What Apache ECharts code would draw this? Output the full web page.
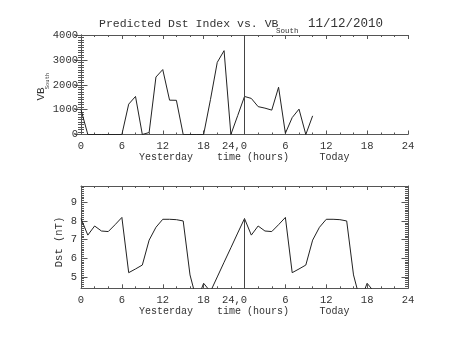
<!DOCTYPE html>
<html><head><meta charset="utf-8">
<script src="https://cdn.jsdelivr.net/npm/echarts@6/dist/echarts.min.js"></script>
<style>html,body{margin:0;padding:0;background:#fff}#c{width:453px;height:340px}</style>
</head><body><div id="c"></div>
<script>
// ---- data ----
const vbHours = [0,1,2,3,4,5,6,7,8,9,10,11,12,13,14,15,16,17,18,19,20,21,22,23,24,25,26,27,28,29,30,31,32,33,34];
const vbSouth = [1000,0,0,0,0,0,0,1220,1530,0,80,2310,2610,1380,1375,0,0,0,0,1400,2900,3370,0,760,1530,1450,1120,1060,980,1900,50,680,1020,0,750];
const dstHours = [0,1,2,3,4,5,6,7,8,9,10,11,12,13,14,15,16,17,18,19,20,21,22,23,24,25,26,27,28,29,30,31,32,33,34,35,36,37,38,39,40,41,42,43];
const dstValues = [8.13,7.24,7.73,7.46,7.43,7.8,8.19,5.22,5.42,5.63,6.97,7.66,8.09,8.09,8.07,8.0,5.1,3.7,4.65,4.2,4.99,5.78,6.56,7.35,8.13,
                   7.24,7.73,7.46,7.43,7.8,8.19,5.22,5.42,5.63,6.97,7.66,8.09,8.09,8.07,8.0,5.1,3.7,4.65,4.2];
const xTickLabels = ['0','6','12','18','24,0','6','12','18','24'];
const vbTicks = [0,1000,2000,3000,4000];
const dstTicks = [5,6,7,8,9];
const dstMin = 4.38, dstMax = 9.88;
const dividerHour = 24;

// ---- chart ----
const FONT = 'Liberation Mono';
const AX = '#555', TXT = '#333', LINE = '#222';
const chart = echarts.init(document.getElementById('c'), null, {renderer:'canvas'});

function xAxisDef(grid, pos, labels) {
  return {
    type:'value', gridIndex:grid, position:pos, min:0, max:48, interval:6,
    axisLine:{show:true, onZero:false, lineStyle:{color:AX, width:1}},
    axisTick:{show:true, inside:true, length:4, lineStyle:{color:AX}},
    minorTick:{show:true, splitNumber:3, length:2, lineStyle:{color:AX}},
    splitLine:{show:false},
    axisLabel:{show:labels, margin:6, color:TXT, fontFamily:FONT, fontSize:10.5,
      formatter:function(v){ const s = xTickLabels[Math.round(v/6)]; return s.indexOf(',')>=0 ? '{s|'+s+'}' : s; },
      rich:{ s:{fontFamily:FONT, fontSize:10.5, color:TXT, padding:[0,20,0,0]} } }
  };
}
function vbY(pos, labels) {
  return {
    type:'value', gridIndex:0, position:pos, min:0, max:4000, interval:1000,
    axisLine:{show:true, lineStyle:{color:AX, width:1}},
    axisTick:{show:true, inside:true, length:6.5, lineStyle:{color:AX}},
    minorTick:{show:true, splitNumber:10, length:3, lineStyle:{color:AX}},
    splitLine:{show:false},
    axisLabel:{show:labels, margin:3, color:TXT, fontFamily:FONT, fontSize:10.5,
      customValues: vbTicks, formatter:function(v){ return String(v); }}
  };
}
const minorDst = [];
for (let k = 44; k <= 98; k++) { if (k % 10 !== 0) minorDst.push(k/10); }
function dstY(pos, major) {
  return {
    type:'value', gridIndex:1, position:pos, min:dstMin, max:dstMax,
    axisLine:{show:major, lineStyle:{color:AX, width:1}},
    axisTick:{show:true, inside:true, length: major ? 6.5 : 3, lineStyle:{color:AX},
      customValues: major ? dstTicks : minorDst},
    splitLine:{show:false},
    axisLabel:{show: major && pos === 'left', margin:4, color:TXT, fontFamily:FONT, fontSize:10.5,
      customValues: dstTicks, formatter:function(v){ return String(v); }}
  };
}

const option = {
  animation:false,
  backgroundColor:'#fff',
  grid:[
    {left:81, top:35, width:327, height:99.5},
    {left:81, top:186, width:327, height:102.3}
  ],
  xAxis:[ xAxisDef(0,'bottom',true), xAxisDef(0,'top',false), xAxisDef(1,'bottom',true), xAxisDef(1,'top',false) ],
  yAxis:[ vbY('left',true), vbY('right',false), dstY('left',true), dstY('left',false), dstY('right',true), dstY('right',false) ],
  series:[
    { type:'line', xAxisIndex:0, yAxisIndex:0, symbol:'none', clip:true,
      lineStyle:{color:LINE, width:1},
      data: vbHours.map((h,i)=>[h, vbSouth[i]]),
      markLine:{ silent:true, symbol:['none','none'], label:{show:false},
        lineStyle:{color:'#444', width:1, type:'solid'}, data:[{xAxis:dividerHour}] } },
    { type:'line', xAxisIndex:2, yAxisIndex:2, symbol:'none', clip:true,
      lineStyle:{color:LINE, width:1},
      data: dstHours.map((h,i)=>[h, dstValues[i]]),
      markLine:{ silent:true, symbol:['none','none'], label:{show:false},
        lineStyle:{color:'#444', width:1, type:'solid'},
        data:[[{coord:[dividerHour, dstMin]},{coord:[dividerHour, dstValues[dstHours.indexOf(dividerHour)]]}]] } }
  ],
  graphic:[
    {type:'text', left:99, top:18, style:{text:'Predicted Dst Index vs. VB', fontFamily:FONT, fontSize:11.5, fill:TXT}},
    {type:'text', left:276, top:27.5, style:{text:'South', fontFamily:FONT, fontSize:7.5, fill:TXT}},
    {type:'text', left:308, top:17.5, style:{text:'11/12/2010', fontFamily:FONT, fontSize:12.5, fill:TXT}},
    // top panel axis labels
    {type:'text', x:41, y:94, rotation:Math.PI/2, style:{text:'VB', x:0, y:0, textAlign:'center', textVerticalAlign:'middle', fontFamily:FONT, fontSize:11, fill:TXT}},
    {type:'text', x:48, y:81, rotation:Math.PI/2, style:{text:'South', x:0, y:0, textAlign:'center', textVerticalAlign:'middle', fontFamily:FONT, fontSize:5.5, fill:TXT}},
    {type:'text', x:166, y:157.5, style:{text:'Yesterday', x:0, y:0, textAlign:'center', textVerticalAlign:'middle', fontFamily:FONT, fontSize:10, fill:TXT}},
    {type:'text', x:253, y:157.5, style:{text:'time (hours)', x:0, y:0, textAlign:'center', textVerticalAlign:'middle', fontFamily:FONT, fontSize:10, fill:TXT}},
    {type:'text', x:334.5, y:157.5, style:{text:'Today', x:0, y:0, textAlign:'center', textVerticalAlign:'middle', fontFamily:FONT, fontSize:10, fill:TXT}},
    // bottom panel axis labels
    {type:'text', x:59.5, y:242, rotation:Math.PI/2, style:{text:'Dst (nT)', x:0, y:0, textAlign:'center', textVerticalAlign:'middle', fontFamily:FONT, fontSize:10.5, fill:TXT}},
    {type:'text', x:166, y:311, style:{text:'Yesterday', x:0, y:0, textAlign:'center', textVerticalAlign:'middle', fontFamily:FONT, fontSize:10, fill:TXT}},
    {type:'text', x:253, y:311, style:{text:'time (hours)', x:0, y:0, textAlign:'center', textVerticalAlign:'middle', fontFamily:FONT, fontSize:10, fill:TXT}},
    {type:'text', x:334.5, y:311, style:{text:'Today', x:0, y:0, textAlign:'center', textVerticalAlign:'middle', fontFamily:FONT, fontSize:10, fill:TXT}}
  ]
};
chart.setOption(option);
</script>
</body></html>
